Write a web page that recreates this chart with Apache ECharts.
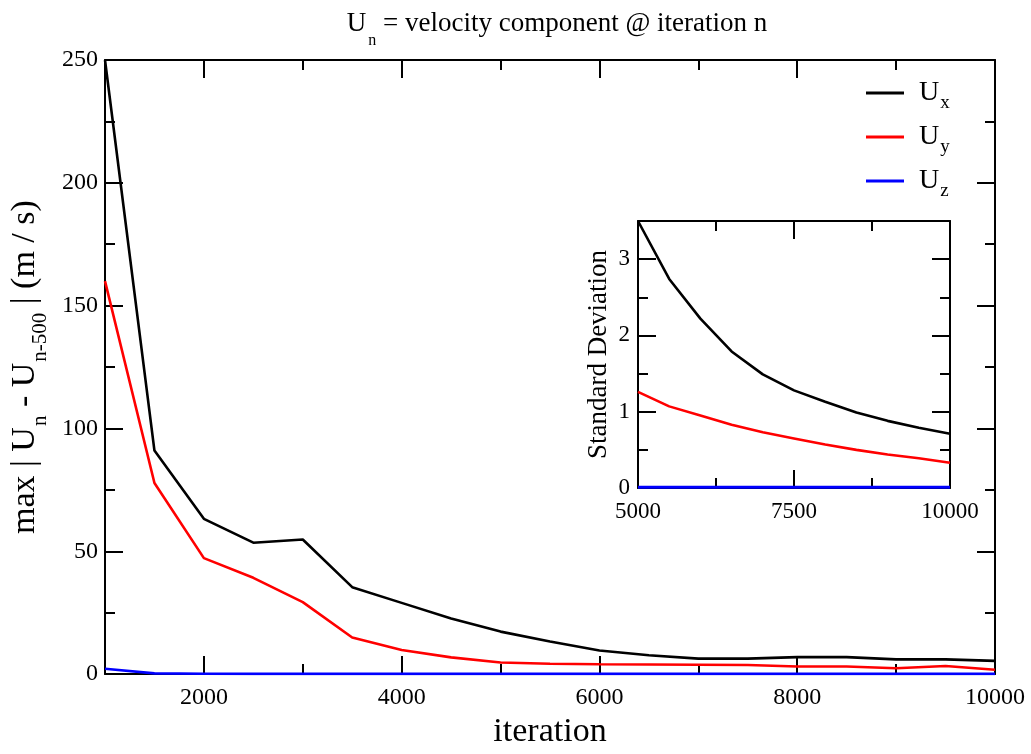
<!DOCTYPE html>
<html>
<head>
<meta charset="utf-8">
<script src="https://cdn.jsdelivr.net/npm/echarts@6/dist/echarts.min.js"></script>
<style>html,body{margin:0;padding:0;background:#fff;}#c{width:1031px;height:754px;}</style>
</head>
<body>
<div id="c"></div>
<script>
// ---- data ----
const mainIter = [1000,1500,2000,2500,3000,3500,4000,4500,5000,5500,6000,6500,7000,7500,8000,8500,9000,9500,10000];
const uxMain = [250,91,63.2,53.5,54.8,35.4,29,22.6,17.3,13.3,9.6,7.7,6.3,6.3,6.9,6.9,6.0,6.0,5.4];
const uyMain = [160,77.8,47.2,39.2,29.3,14.9,9.8,6.8,4.7,4.2,4.0,3.9,3.8,3.7,3.1,3.1,2.4,3.3,1.8];
const uzMain = [2.2,0.3,0.15,0.1,0.1,0.1,0.1,0.1,0.1,0.1,0.1,0.1,0.1,0.1,0.1,0.1,0.1,0.1,0.1];

const insetIter = [5000,5500,6000,6500,7000,7500,8000,8500,9000,9500,10000];
const uxStd = [3.50,2.74,2.22,1.79,1.49,1.28,1.13,0.99,0.88,0.79,0.71];
const uyStd = [1.26,1.07,0.95,0.83,0.73,0.65,0.57,0.50,0.44,0.39,0.33];
const uzStd = [0.01,0.01,0.01,0.01,0.01,0.01,0.01,0.01,0.01,0.01,0.01];

const mainXMajor = [2000,4000,6000,8000,10000];
const insetYMajor = [0,1,2,3];

const seriesNames = ['Ux','Uy','Uz'];
const seriesSubs = {Ux:'x', Uy:'y', Uz:'z'};
const colors = ['#000000','#ff0000','#0000ff'];

// ---- helpers ----
const FONT = 'Liberation Serif';
const pair = (xs, ys) => xs.map((x,i)=>[x, ys[i]]);
const lineStyle = {color:'#000', width:2};
const plain = v => String(v);

function xAx(o){
  return Object.assign({
    type:'value', axisLine:{show:true, onZero:false, lineStyle:lineStyle},
    splitLine:{show:false}, axisLabel:{show:false}
  }, o);
}
function yAx(o){ return xAx(o); }

const chart = echarts.init(document.getElementById('c'));
const option = {
  animation:false,
  backgroundColor:'#fff',
  title:{
    text:'{a|U}{s|n}{a| = velocity component @ iteration n}',
    left:552, top:5, textAlign:'center',
    textStyle:{
      fontWeight:'normal',
      rich:{
        a:{fontFamily:FONT, fontSize:27, fontWeight:'normal', color:'#000', lineHeight:28, verticalAlign:'top'},
        s:{fontFamily:FONT, fontSize:16, fontWeight:'normal', color:'#000', lineHeight:16, padding:[23,0,0,2], verticalAlign:'top'}
      }
    }
  },
  legend:{
    orient:'vertical', left:861, top:74, itemWidth:38, itemHeight:3, itemGap:10,
    icon:'rect',
    data:seriesNames.map(n=>({name:n})),
    formatter:n=>'{u|U}{s|'+seriesSubs[n]+'}',
    textStyle:{
      rich:{
        u:{fontFamily:FONT, fontSize:28, color:'#000', lineHeight:28, padding:[0,0,0,10], verticalAlign:'top'},
        s:{fontFamily:FONT, fontSize:19, color:'#000', lineHeight:19, padding:[15,0,0,1], verticalAlign:'top'}
      }
    }
  },
  grid:[
    {left:105, top:60, width:890, height:627, containLabel:false},
    {left:638, top:221, width:312, height:267, show:true, backgroundColor:'#fff', borderWidth:0, containLabel:false}
  ],
  xAxis:[
    xAx({gridIndex:0, position:'bottom', min:1000, max:10000, interval:1000,
      axisTick:{inside:true, length:18, lineStyle:lineStyle, customValues:mainXMajor},
      axisLabel:{show:true, customValues:mainXMajor, formatter:plain, fontFamily:FONT, fontSize:24, color:'#000', margin:12},
      name:'iteration', nameLocation:'middle', nameGap:33,
      nameTextStyle:{fontFamily:FONT, fontSize:34, color:'#000'}}),
    xAx({gridIndex:0, position:'bottom', min:1000, max:10000, interval:1000, axisLine:{show:false, onZero:false},
      axisTick:{inside:true, length:10, lineStyle:lineStyle}}),
    xAx({gridIndex:0, position:'top', min:1000, max:10000, interval:1000,
      axisTick:{inside:true, length:18, lineStyle:lineStyle, customValues:mainXMajor}}),
    xAx({gridIndex:0, position:'top', min:1000, max:10000, interval:1000, axisLine:{show:false, onZero:false},
      axisTick:{inside:true, length:10, lineStyle:lineStyle}}),
    xAx({gridIndex:1, position:'bottom', min:5000, max:10000, interval:2500,
      axisTick:{inside:true, length:18, lineStyle:lineStyle},
      minorTick:{show:true, splitNumber:2, length:10, lineStyle:lineStyle},
      axisLabel:{show:true, formatter:plain, fontFamily:FONT, fontSize:23, color:'#000', margin:12}}),
    xAx({gridIndex:1, position:'top', min:5000, max:10000, interval:2500,
      axisTick:{inside:true, length:18, lineStyle:lineStyle},
      minorTick:{show:true, splitNumber:2, length:10, lineStyle:lineStyle}})
  ],
  yAxis:[
    yAx({gridIndex:0, position:'left', min:0, max:250, interval:50,
      axisTick:{inside:true, length:18, lineStyle:lineStyle},
      minorTick:{show:true, splitNumber:2, length:10, lineStyle:lineStyle},
      axisLabel:{show:true, formatter:plain, fontFamily:FONT, fontSize:24, color:'#000', margin:7},
      name:'{m|max | U}{s|n}{m| - U}{s|n-500}{m| | (m / s)}', nameLocation:'middle', nameGap:52, nameRotate:90,
      nameTextStyle:{rich:{
        m:{fontFamily:FONT, fontSize:34, color:'#000', lineHeight:34, verticalAlign:'top'},
        s:{fontFamily:FONT, fontSize:21, color:'#000', lineHeight:21, padding:[22,0,0,1], verticalAlign:'top'}
      }}}),
    yAx({gridIndex:0, position:'right', min:0, max:250, interval:50,
      axisTick:{inside:true, length:18, lineStyle:lineStyle},
      minorTick:{show:true, splitNumber:2, length:10, lineStyle:lineStyle}}),
    yAx({gridIndex:1, position:'left', min:0, max:3.5, interval:0.5,
      axisTick:{inside:true, length:18, lineStyle:lineStyle, customValues:insetYMajor},
      axisLabel:{show:true, customValues:insetYMajor, formatter:plain, fontFamily:FONT, fontSize:23, color:'#000', margin:8},
      name:'Standard Deviation', nameLocation:'middle', nameGap:26, nameRotate:90,
      nameTextStyle:{fontFamily:FONT, fontSize:27, color:'#000'}}),
    yAx({gridIndex:1, position:'left', min:0, max:3.5, interval:0.5, axisLine:{show:false, onZero:false},
      axisTick:{inside:true, length:10, lineStyle:lineStyle}}),
    yAx({gridIndex:1, position:'right', min:0, max:3.5, interval:0.5,
      axisTick:{inside:true, length:18, lineStyle:lineStyle, customValues:insetYMajor}}),
    yAx({gridIndex:1, position:'right', min:0, max:3.5, interval:0.5, axisLine:{show:false, onZero:false},
      axisTick:{inside:true, length:10, lineStyle:lineStyle}})
  ],
  series:[
    {name:'Ux', type:'line', xAxisIndex:0, yAxisIndex:0, data:pair(mainIter, uxMain), showSymbol:false, lineStyle:{color:colors[0], width:2.6}, itemStyle:{color:colors[0]}, z:3},
    {name:'Uy', type:'line', xAxisIndex:0, yAxisIndex:0, data:pair(mainIter, uyMain), showSymbol:false, lineStyle:{color:colors[1], width:2.6}, itemStyle:{color:colors[1]}, z:3},
    {name:'Uz', type:'line', xAxisIndex:0, yAxisIndex:0, data:pair(mainIter, uzMain), showSymbol:false, lineStyle:{color:colors[2], width:2.6}, itemStyle:{color:colors[2]}, z:3},
    {name:'Ux', type:'line', xAxisIndex:4, yAxisIndex:2, data:pair(insetIter, uxStd), showSymbol:false, lineStyle:{color:colors[0], width:2.6}, itemStyle:{color:colors[0]}, z:3},
    {name:'Uy', type:'line', xAxisIndex:4, yAxisIndex:2, data:pair(insetIter, uyStd), showSymbol:false, lineStyle:{color:colors[1], width:2.6}, itemStyle:{color:colors[1]}, z:3},
    {name:'Uz', type:'line', xAxisIndex:4, yAxisIndex:2, data:pair(insetIter, uzStd), showSymbol:false, lineStyle:{color:colors[2], width:3}, itemStyle:{color:colors[2]}, z:3}
  ]
};
chart.setOption(option);
</script>
</body>
</html>
